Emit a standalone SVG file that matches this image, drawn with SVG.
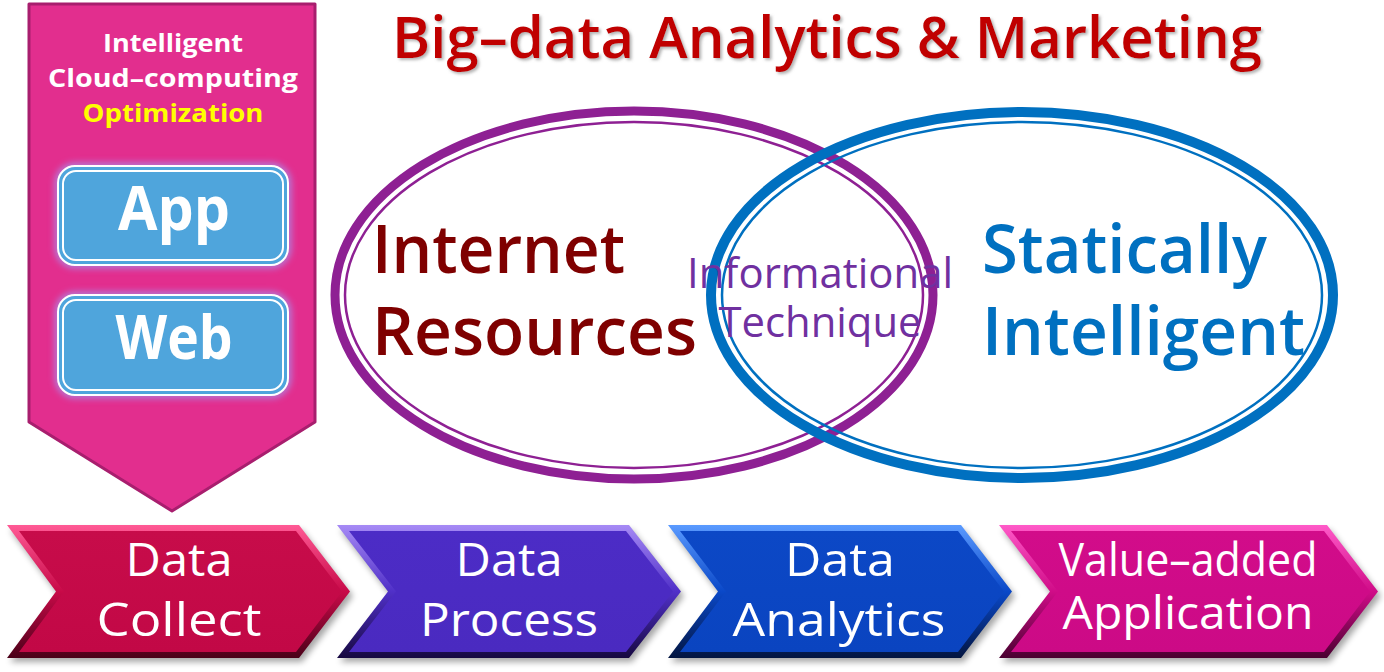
<svg xmlns="http://www.w3.org/2000/svg" width="1384" height="672" viewBox="0 0 1384 672">
<defs>
<style>
text{font-family:"Open Sans","Noto Sans","Liberation Sans",sans-serif;text-anchor:middle}
.w{fill:#fff}
.pent{font-weight:700;font-size:25px}
.box{font-weight:700;font-size:60px;fill:#fff}
.chev{font-size:46px;fill:#fff;font-weight:500}
.big{font-size:67px;font-weight:600;text-anchor:start}
.mid{font-size:42px;font-weight:500;fill:#7030A0}
</style>
<filter id="shadow" x="-10%" y="-10%" width="130%" height="140%">
<feGaussianBlur stdDeviation="3"/>
</filter>
<filter id="glow" x="-20%" y="-30%" width="140%" height="160%">
<feGaussianBlur stdDeviation="3"/>
</filter>
<filter id="tsh" filterUnits="userSpaceOnUse" x="370" y="0" width="920" height="90">
<feDropShadow dx="2" dy="2" stdDeviation="1.5" flood-color="#808080" flood-opacity="0.6"/>
</filter>
<linearGradient id="g1" x1="0" y1="0" x2="0" y2="1"><stop offset="0" stop-color="#FF5A95"/><stop offset="0.5" stop-color="#C80A48"/><stop offset="1" stop-color="#4A0018"/></linearGradient>
<linearGradient id="g2" x1="0" y1="0" x2="0" y2="1"><stop offset="0" stop-color="#A68AF5"/><stop offset="0.5" stop-color="#5030C8"/><stop offset="1" stop-color="#160840"/></linearGradient>
<linearGradient id="g3" x1="0" y1="0" x2="0" y2="1"><stop offset="0" stop-color="#5A9AFF"/><stop offset="0.5" stop-color="#0A48C8"/><stop offset="1" stop-color="#031540"/></linearGradient>
<linearGradient id="g4" x1="0" y1="0" x2="0" y2="1"><stop offset="0" stop-color="#FF5AC8"/><stop offset="0.5" stop-color="#D00C88"/><stop offset="1" stop-color="#4A0030"/></linearGradient>
<linearGradient id="f1" x1="0" y1="0" x2="0" y2="1"><stop offset="0" stop-color="#C70C4A"/><stop offset="1" stop-color="#C20846"/></linearGradient>
<linearGradient id="f2" x1="0" y1="0" x2="0" y2="1"><stop offset="0" stop-color="#4C2CC6"/><stop offset="1" stop-color="#4A2AC0"/></linearGradient>
<linearGradient id="f3" x1="0" y1="0" x2="0" y2="1"><stop offset="0" stop-color="#0C48C6"/><stop offset="1" stop-color="#0A44C0"/></linearGradient>
<linearGradient id="f4" x1="0" y1="0" x2="0" y2="1"><stop offset="0" stop-color="#D20C8A"/><stop offset="1" stop-color="#CC0A86"/></linearGradient>
</defs>
<rect width="1384" height="672" fill="#fff"/>

<g id="title">
<text x="827" y="58" font-size="57" font-weight="600" fill="#C00000" filter="url(#tsh)" textLength="870" lengthAdjust="spacingAndGlyphs">Big–data Analytics &amp; Marketing</text>
</g>

<g id="cloud">
<polygon points="29,4 315,4 315,422 172,511 29,422" fill="#E22E8E" stroke="#A81E6E" stroke-width="3" stroke-linejoin="round"/>
<text class="pent w" x="173" y="52" textLength="140" lengthAdjust="spacingAndGlyphs">Intelligent</text>
<text class="pent w" x="173" y="87" textLength="250" lengthAdjust="spacingAndGlyphs">Cloud–computing</text>
<text class="pent" x="173" y="122" fill="#FFFF00" textLength="181" lengthAdjust="spacingAndGlyphs">Optimization</text>
</g>

<g id="app">
<rect x="58" y="166" width="230" height="99" rx="17" fill="none" stroke="#B47AD8" stroke-width="7" filter="url(#glow)"/>
<rect x="58" y="166" width="230" height="99" rx="17" fill="#4FA5DC" stroke="#fff" stroke-width="2"/>
<rect x="63" y="171" width="220" height="89" rx="13" fill="none" stroke="#fff" stroke-width="2"/>
<text class="box" x="174" y="230" textLength="112" lengthAdjust="spacingAndGlyphs">App</text>
</g>
<g id="web">
<rect x="58" y="295" width="230" height="100" rx="17" fill="none" stroke="#B47AD8" stroke-width="7" filter="url(#glow)"/>
<rect x="58" y="295" width="230" height="100" rx="17" fill="#4FA5DC" stroke="#fff" stroke-width="2"/>
<rect x="63" y="300" width="220" height="90" rx="13" fill="none" stroke="#fff" stroke-width="2"/>
<text class="box" x="174" y="359" textLength="117" lengthAdjust="spacingAndGlyphs">Web</text>
</g>

<g id="internet">
<ellipse cx="634" cy="295" rx="299" ry="184" fill="none" stroke="#8E2093" stroke-width="9"/>
<ellipse cx="634" cy="295" rx="289" ry="173" fill="none" stroke="#8E2093" stroke-width="2.5"/>
<text class="big" x="372" y="273" fill="#7F0000" textLength="253" lengthAdjust="spacingAndGlyphs">Internet</text>
<text class="big" x="372" y="355" fill="#7F0000" textLength="325" lengthAdjust="spacingAndGlyphs">Resources</text>
</g>

<g id="statically">
<ellipse cx="1022" cy="295" rx="311" ry="183" fill="none" stroke="#0070C0" stroke-width="10"/>
<ellipse cx="1022" cy="295" rx="300" ry="173" fill="none" stroke="#0070C0" stroke-width="2.5"/>
<text class="big" x="982" y="273" fill="#0070C0" textLength="285" lengthAdjust="spacingAndGlyphs">Statically</text>
<text class="big" x="982" y="355" fill="#0070C0" textLength="323" lengthAdjust="spacingAndGlyphs">Intelligent</text>
</g>

<g id="informational">
<text class="mid" x="820" y="288" textLength="266" lengthAdjust="spacingAndGlyphs">Informational</text>
<text class="mid" x="820" y="337" textLength="203" lengthAdjust="spacingAndGlyphs">Technique</text>
</g>

<g id="connectors"/>

<g id="collect">
<polygon points="10,530 302,530 353,596 302,662 10,662 59,596" fill="#000" opacity="0.35" filter="url(#shadow)"/>
<polygon points="7,525 299,525 350,591.5 299,658 7,658 56,591.5" fill="url(#g1)"/>
<polygon points="19,531 296,531 342,591.5 296,652 19,652 64,591.5" fill="url(#f1)"/>
<text class="chev" x="179" y="576" textLength="107" lengthAdjust="spacingAndGlyphs">Data</text>
<text class="chev" x="179" y="636" textLength="165" lengthAdjust="spacingAndGlyphs">Collect</text>
</g>
<g id="process">
<polygon points="340,530 632,530 684,596 632,662 340,662 391,596" fill="#000" opacity="0.35" filter="url(#shadow)"/>
<polygon points="337,525 629,525 681,591.5 629,658 337,658 388,591.5" fill="url(#g2)"/>
<polygon points="349,531 626,531 673,591.5 626,652 349,652 396,591.5" fill="url(#f2)"/>
<text class="chev" x="509" y="576" textLength="107" lengthAdjust="spacingAndGlyphs">Data</text>
<text class="chev" x="509" y="636" textLength="178" lengthAdjust="spacingAndGlyphs">Process</text>
</g>
<g id="analytics">
<polygon points="671,530 964,530 1015,596 964,662 671,662 721,596" fill="#000" opacity="0.35" filter="url(#shadow)"/>
<polygon points="668,525 961,525 1012,591.5 961,658 668,658 718,591.5" fill="url(#g3)"/>
<polygon points="680,531 958,531 1004,591.5 958,652 680,652 726,591.5" fill="url(#f3)"/>
<text class="chev" x="840" y="576" textLength="110" lengthAdjust="spacingAndGlyphs">Data</text>
<text class="chev" x="839" y="636" textLength="213" lengthAdjust="spacingAndGlyphs">Analytics</text>
</g>
<g id="application">
<polygon points="1002,530 1330,530 1381,596 1330,662 1002,662 1053,596" fill="#000" opacity="0.35" filter="url(#shadow)"/>
<polygon points="999,525 1327,525 1378,591.5 1327,658 999,658 1050,591.5" fill="url(#g4)"/>
<polygon points="1011,531 1324,531 1370,591.5 1324,652 1011,652 1058,591.5" fill="url(#f4)"/>
<text class="chev" x="1188" y="576" font-size="41" textLength="259" lengthAdjust="spacingAndGlyphs">Value–added</text>
<text class="chev" x="1188" y="629" font-size="44" textLength="251" lengthAdjust="spacingAndGlyphs">Application</text>
</g>
</svg>
